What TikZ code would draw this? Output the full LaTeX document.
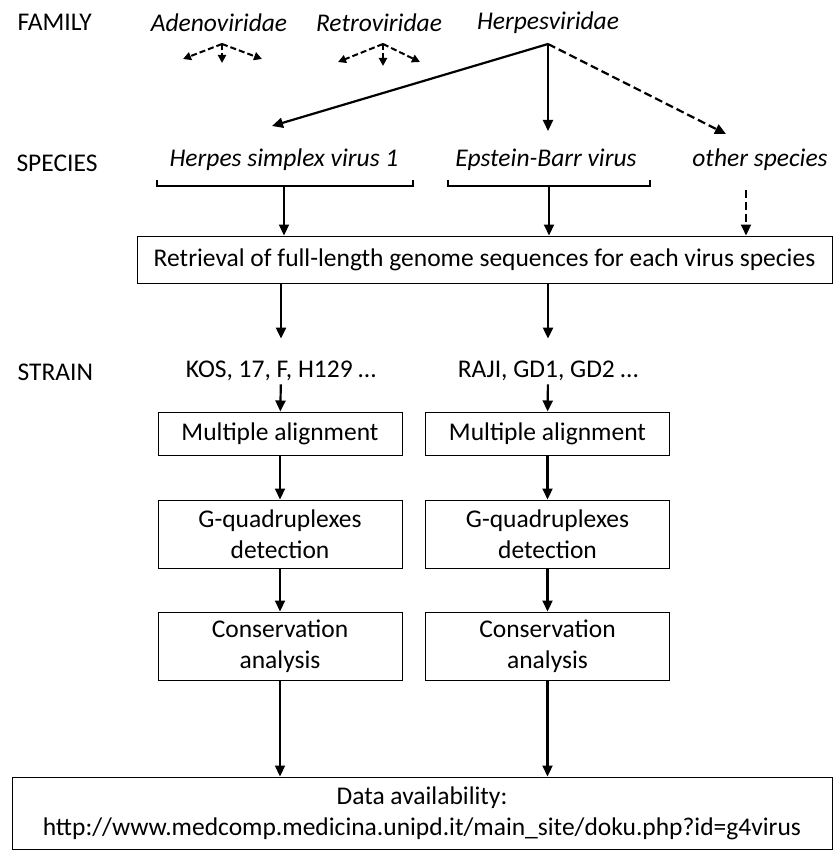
\documentclass[tikz,border=0pt]{standalone}
\usepackage{fontspec}
\setmainfont{Carlito}
\usetikzlibrary{arrows.meta}

\begin{document}
\begin{tikzpicture}[x=1pt,y=-1pt,
	every node/.style={font=\fontsize{25.5}{31}\selectfont},
	lab/.style={anchor=west},
	taxon/.style={font=\fontsize{25.5}{31}\selectfont\itshape},
	stepbox/.style={draw,line width=1pt,align=center,minimum width=244pt},
	link/.style={line width=2.2pt,-{Triangle[length=11pt,width=10pt]}},
	maybe/.style={link,dash pattern=on 8pt off 4pt},
	fan/.style={line width=2pt,dash pattern=on 6pt off 3pt,-{Triangle[length=8pt,width=8pt]}}]
	\useasboundingbox (0,0) rectangle (833,850);

	% row labels
	\node[lab] (famlab) at (14,22) {FAMILY};
	\node[lab] (spelab) at (13,163) {SPECIES};
	\node[lab] (strlab) at (14,372) {STRAIN};

	% families
	\node[taxon] (adeno) at (219,23) {Adenoviridae};
	\node[taxon] (retro) at (379,23) {Retroviridae};
	\node[taxon] (herpes) at (548,23) {Herpesviridae};

	% species
	\node[taxon] (hsv) at (284,160) {Herpes simplex virus 1};
	\node[taxon] (ebv) at (546,160) {Epstein-Barr virus};
	\node[taxon] (other) at (760,160) {other species};

	% fork points and free ends
	\coordinate (afork) at (222,44);
	\coordinate (al) at (183,59);
	\coordinate (ad) at (222,63);
	\coordinate (ar) at (262,59);
	\coordinate (rfork) at (383,44);
	\coordinate (rl) at (338,62);
	\coordinate (rd) at (383,66);
	\coordinate (rr) at (420,62);
	\coordinate (hfork) at (548,44);
	\coordinate (hsvtip) at (272,126);
	\coordinate (ebvtip) at (548,131);
	\coordinate (othtip) at (726,134);
	\coordinate (hsvfoot) at (284,186);
	\coordinate (ebvfoot) at (549,186);
	\coordinate (othfoot) at (746,190);

	\draw[fan] (afork) -- (al);
	\draw[fan] (afork) -- (ad);
	\draw[fan] (afork) -- (ar);
	\draw[fan] (rfork) -- (rl);
	\draw[fan] (rfork) -- (rd);
	\draw[fan] (rfork) -- (rr);
	\draw[link] (hfork) -- (hsvtip);
	\draw[link] (hfork) -- (ebvtip);
	\draw[maybe] (hfork) -- (othtip);

	% brackets under the species
	\draw[line width=2.2pt] (157,180) -- (157,186) -- (413,186) -- (413,180);
	\draw[line width=2.2pt] (448,180) -- (448,186) -- (650,186) -- (650,180);

	\node[stepbox,minimum width=695pt,minimum height=47pt] (retr) at (484.5,259.5)
		{Retrieval of full-length genome sequences for each virus species};
	\draw[link] (hsvfoot) -- (retr.north -| hsvfoot);
	\draw[link] (ebvfoot) -- (retr.north -| ebvfoot);
	\draw[maybe] (othfoot) -- (retr.north -| othfoot);

	% strains
	\node (kos) at (281,371) {KOS, 17, F, H129 \dots};
	\node (raji) at (548,371) {RAJI, GD1, GD2 \dots};
	\draw[link,shorten >=19pt] (retr.south -| kos) -- (kos.north);
	\draw[link,shorten >=19pt] (retr.south -| raji) -- (raji.north);

	% pipeline for each species
	\node[stepbox,minimum height=43pt] (malign1) at (280,433.5) {Multiple alignment};
	\node[stepbox,minimum height=43pt] (malign2) at (547.5,433.5) {Multiple alignment};
	\node[stepbox,minimum height=68pt] (gquad1) at (280,534) {G-quadruplexes\\detection};
	\node[stepbox,minimum height=68pt] (gquad2) at (547.5,534) {G-quadruplexes\\detection};
	\node[stepbox,minimum height=68pt] (cons1) at (280,646) {Conservation\\analysis};
	\node[stepbox,minimum height=68pt] (cons2) at (547.5,646) {Conservation\\analysis};

	\node[stepbox,minimum width=820pt,minimum height=72pt] (data) at (422,813)
		{Data availability:\\http://www.medcomp.medicina.unipd.it/main\_site/doku.php?id=g4virus};

	\draw[link] (kos) -- (malign1);
	\draw[link] (raji) -- (malign2);
	\draw[link] (malign1) -- (gquad1);
	\draw[link] (malign2) -- (gquad2);
	\draw[link] (gquad1) -- (cons1);
	\draw[link] (gquad2) -- (cons2);
	\draw[link] (cons1) -- (cons1 |- data.north);
	\draw[link] (cons2) -- (cons2 |- data.north);
\end{tikzpicture}
\end{document}
